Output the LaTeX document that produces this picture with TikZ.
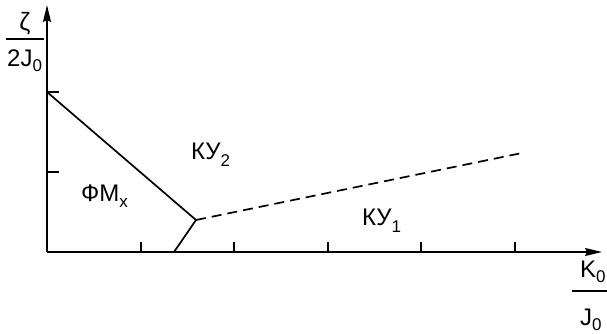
\documentclass[tikz,border=0pt]{standalone}
\usepackage{fontspec}
\setmainfont{Liberation Sans}
\usetikzlibrary{arrows.meta}
\begin{document}
\begin{tikzpicture}[x=1pt,y=-1pt,
  axis/.style={line width=1.6pt,-{Stealth[length=17pt,width=8pt,inset=2pt]}},
  tick/.style={line width=1.3pt},
  bound/.style={line width=1.7pt},
  lbl/.style={inner sep=0pt,anchor=base west,font=\fontsize{24}{28}\selectfont},
  sub/.style={font=\fontsize{16}{18}\selectfont}]
\useasboundingbox (0,0) rectangle (607,334);
% key points
\coordinate (O) at (47,252);
\coordinate (Ytop) at (47,5);
\coordinate (Xend) at (602,252);
\coordinate (A) at (47,92);
\coordinate (J) at (196,220);
\coordinate (B) at (174,252);
\coordinate (D) at (522,153);
% axes
\draw[axis] (O) -- (Ytop);
\draw[axis] (O) -- (Xend);
% ticks
\foreach \x in {141,234,328,421,515} \draw[tick] (\x,252) -- (\x,242);
\foreach \y in {92,172} \draw[tick] (47,\y) -- (59,\y);
% boundaries
\draw[bound] (A) -- (J);
\draw[bound] (B) -- (J);
\draw[bound,dash pattern=on 10pt off 6pt] (J) -- (D);
% labels
\node[inner sep=0pt,font=\fontsize{25}{28}\selectfont] (zeta) at (25,24) {ζ};
\draw[line width=1.5pt] (6,39) -- (44,39);
\node[lbl] (twoJ) at (7,67) {2J\raisebox{-5pt}{\fontsize{17}{18}\selectfont 0}};
\node[lbl] (K0) at (580,277) {K\raisebox{-5pt}{\fontsize{17}{18}\selectfont 0}};
\draw[line width=1.5pt] (572,291) -- (607,291);
\node[lbl] (J0) at (580,325) {J\raisebox{-5pt}{\fontsize{17}{18}\selectfont 0}};
\node[lbl] (FM) at (81,201) {ФM\raisebox{-6pt}{\fontsize{17}{18}\selectfont x}};
\node[lbl] (KU2) at (191,159) {КУ\raisebox{-7pt}{\fontsize{17}{18}\selectfont 2}};
\node[lbl] (KU1) at (362,225) {КУ\raisebox{-7pt}{\fontsize{17}{18}\selectfont 1}};
\end{tikzpicture}
\end{document}
